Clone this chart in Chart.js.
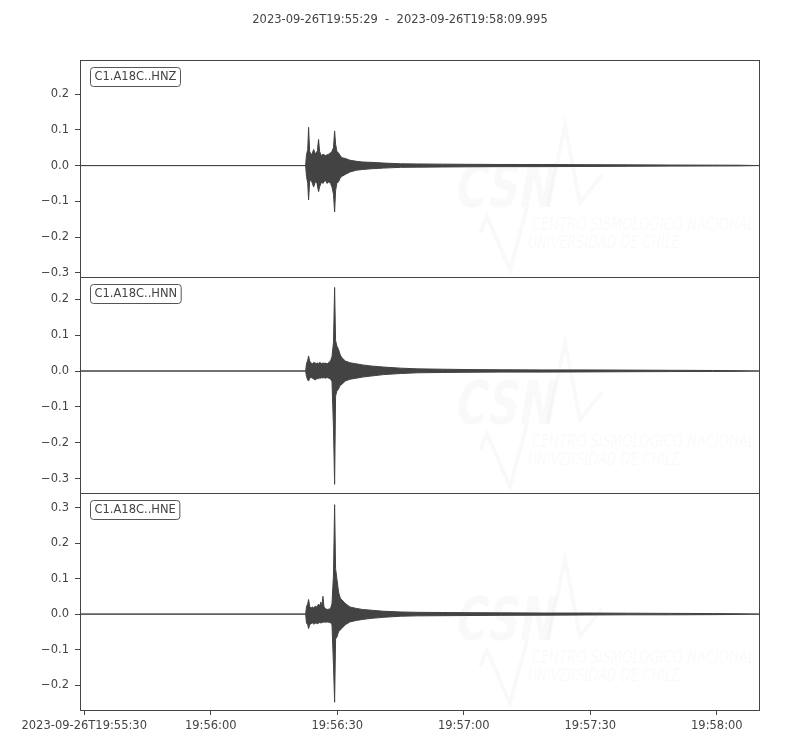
<!DOCTYPE html>
<html>
<head>
<meta charset="utf-8">
<script src="https://cdn.jsdelivr.net/npm/chart.js@4"></script>
<style>
  html, body { margin: 0; padding: 0; background: #fff; }
</style>
</head>
<body>
<canvas id="seis" width="800" height="750"></canvas>
<script>
const titleText = '2023-09-26T19:55:29  -  2023-09-26T19:58:09.995';
const duration = 160.995; // seconds shown

const channels = ['C1.A18C..HNZ', 'C1.A18C..HNN', 'C1.A18C..HNE'];

// envelope sample times, seconds after 19:55:29
const times = [0, 53.5, 53.7, 54.0, 54.2, 54.45, 54.8, 55.1, 55.4, 55.8, 56.2, 56.35, 56.57, 56.8,
  57.13, 57.35, 57.6, 57.85, 58.2, 58.6, 59.0, 59.4, 59.75, 60.1, 60.37, 60.6, 60.9, 61.3, 61.7,
  62.1, 62.9, 64, 65.5, 67, 69, 72, 76, 80, 86, 92, 100, 110, 120, 130, 140, 150, 156, 161];

const hnzMax = [0, 0, 0.03, 0.045, 0.107, 0.04, 0.03, 0.035, 0.045, 0.032, 0.04, 0.05, 0.073, 0.04,
  0.03, 0.028, 0.032, 0.03, 0.028, 0.03, 0.032, 0.035, 0.04, 0.05, 0.097, 0.06, 0.04, 0.035, 0.028,
  0.022, 0.02, 0.015, 0.012, 0.01, 0.009, 0.007, 0.005, 0.0045, 0.004, 0.0035, 0.003, 0.003, 0.0025,
  0.002, 0.0015, 0.0012, 0.001, 0];
const hnzMin = [0, 0, -0.03, -0.05, -0.096, -0.045, -0.04, -0.05, -0.06, -0.045, -0.05, -0.06, -0.073, -0.06,
  -0.05, -0.045, -0.05, -0.045, -0.042, -0.05, -0.045, -0.05, -0.06, -0.08, -0.13, -0.07, -0.05, -0.045, -0.035,
  -0.03, -0.025, -0.018, -0.013, -0.011, -0.009, -0.007, -0.005, -0.0045, -0.004, -0.0035, -0.003, -0.003, -0.0025,
  -0.002, -0.0015, -0.0012, -0.001, 0];

const hnnMax = [0, 0, 0.02, 0.03, 0.042, 0.028, 0.022, 0.02, 0.024, 0.022, 0.02, 0.023, 0.02, 0.024,
  0.022, 0.02, 0.023, 0.021, 0.022, 0.02, 0.024, 0.028, 0.04, 0.08, 0.233, 0.085, 0.07, 0.06, 0.045,
  0.037, 0.028, 0.023, 0.02, 0.017, 0.014, 0.011, 0.008, 0.006, 0.005, 0.004, 0.0035, 0.003, 0.003,
  0.0025, 0.002, 0.0015, 0.001, 0];
const hnnMin = [0, 0, -0.015, -0.025, -0.028, -0.02, -0.018, -0.02, -0.022, -0.025, -0.02, -0.02, -0.022, -0.019,
  -0.02, -0.018, -0.02, -0.018, -0.02, -0.018, -0.02, -0.022, -0.03, -0.158, -0.316, -0.07, -0.056, -0.05, -0.04,
  -0.037, -0.028, -0.023, -0.02, -0.017, -0.014, -0.01, -0.007, -0.005, -0.004, -0.0035, -0.003, -0.003, -0.0025,
  -0.002, -0.0015, -0.0012, -0.001, 0];

const hneMax = [0, 0, 0.02, 0.03, 0.041, 0.022, 0.017, 0.02, 0.018, 0.022, 0.02, 0.025, 0.028, 0.022,
  0.034, 0.02, 0.05, 0.02, 0.015, 0.013, 0.014, 0.015, 0.03, 0.11, 0.308, 0.128, 0.1, 0.062, 0.045,
  0.04, 0.03, 0.02, 0.016, 0.013, 0.011, 0.008, 0.006, 0.005, 0.0045, 0.004, 0.0035, 0.003, 0.003,
  0.0025, 0.002, 0.0015, 0.001, 0];
const hneMin = [0, 0, -0.025, -0.03, -0.041, -0.03, -0.027, -0.025, -0.028, -0.026, -0.025, -0.027, -0.025, -0.024,
  -0.025, -0.024, -0.023, -0.022, -0.023, -0.022, -0.023, -0.024, -0.03, -0.144, -0.248, -0.07, -0.065, -0.05, -0.045,
  -0.04, -0.03, -0.022, -0.018, -0.015, -0.012, -0.009, -0.006, -0.005, -0.0045, -0.004, -0.0035, -0.003, -0.0025,
  -0.002, -0.002, -0.0015, -0.001, 0];

const xTickSecs = [1, 31, 61, 91, 121, 151];
const xTickLabels = ['2023-09-26T19:55:30', '19:56:00', '19:56:30', '19:57:00', '19:57:30', '19:58:00'];

const hnzTicks = [-0.3, -0.2, -0.1, 0, 0.1, 0.2];
const hnnTicks = [-0.3, -0.2, -0.1, 0, 0.1, 0.2];
const hneTicks = [-0.2, -0.1, 0, 0.1, 0.2, 0.3];

const traceColor = '#434343';
const textColor = '#444';
const font = { family: '"DejaVu Sans", sans-serif', size: 11.5 };

function pts(ys) {
  return times.map((t, i) => ({ x: t, y: ys[i] }));
}

function fmt(v) {
  return v.toFixed(1).replace('-', '\u2212');
}

function yScale(lo, hi, ticks) {
  return {
    type: 'linear',
    position: 'left',
    stack: 'traces',
    stackWeight: 1,
    min: lo,
    max: hi,
    afterBuildTicks: s => { s.ticks = ticks.map(v => ({ value: v })); },
    afterFit: s => { s.width = 80; },
    grid: { drawOnChartArea: false, tickLength: 5, tickColor: textColor },
    border: { display: false },
    ticks: { color: textColor, font: font, padding: 6, callback: v => fmt(v) }
  };
}

function pair(maxArr, minArr, axis) {
  return [
    { data: pts(maxArr), yAxisID: axis, borderColor: traceColor, backgroundColor: traceColor,
      borderWidth: 1, pointRadius: 0, tension: 0, fill: '+1' },
    { data: pts(minArr), yAxisID: axis, borderColor: traceColor,
      borderWidth: 1, pointRadius: 0, tension: 0, fill: false }
  ];
}

const axisIds = ['yZ', 'yN', 'yE'];

function drawLogo(ctx, top) {
  ctx.save();
  const faint = 'rgba(0,0,0,0.022)';
  ctx.fillStyle = faint;
  ctx.strokeStyle = faint;
  // big CSN letters
  ctx.save();
  ctx.translate(453, top + 147);
  ctx.transform(1, 0, -0.18, 1, 0, 0);
  ctx.font = 'bold 60px "DejaVu Sans"';
  let w = ctx.measureText('CSN').width;
  ctx.scale(100 / w, 1);
  ctx.fillText('CSN', 0, 0);
  ctx.restore();
  // text lines
  const lines = [['CENTRO SISMOL\u00d3GICO NACIONAL', 532, 170, 223], ['UNIVERSIDAD DE CHILE', 528, 188, 152]];
  ctx.font = 'italic 18px "DejaVu Sans"';
  lines.forEach(l => {
    ctx.save();
    ctx.translate(l[1], top + l[2]);
    ctx.scale(l[3] / ctx.measureText(l[0]).width, 1);
    ctx.fillText(l[0], 0, 0);
    ctx.restore();
  });
  // wave strokes
  ctx.lineWidth = 4;
  ctx.beginPath();
  ctx.moveTo(548, top + 147); ctx.lineTo(565, top + 65); ctx.lineTo(580, top + 143); ctx.lineTo(602, top + 115);
  ctx.stroke();
  ctx.beginPath();
  ctx.moveTo(480, top + 173); ctx.lineTo(487, top + 157); ctx.lineTo(510, top + 210); ctx.lineTo(527, top + 147);
  ctx.stroke();
  ctx.restore();
}

const decor = {
  id: 'decor',
  beforeDatasetsDraw(chart) {
    const ctx = chart.ctx;
    axisIds.forEach(id => drawLogo(ctx, chart.scales[id].top));
  },
  afterDatasetsDraw(chart) {
    const ctx = chart.ctx;
    const a = chart.chartArea;
    ctx.save();
    ctx.lineWidth = 1;
    axisIds.forEach((id, i) => {
      const s = chart.scales[id];
      const l = Math.round(a.left) + 0.5, r = Math.round(a.right) + 0.5;
      const t = Math.round(s.top) + 0.5, b = Math.round(s.bottom) + 0.5;
      ctx.strokeStyle = textColor;
      ctx.strokeRect(l, t, r - l, b - t);
      // channel label box
      ctx.font = '11.5px "DejaVu Sans"';
      const tw = ctx.measureText(channels[i]).width;
      const bx = l + 10, by = t + 7, bw = tw + 8, bh = 19;
      ctx.beginPath();
      ctx.roundRect(bx, by, bw, bh, 3);
      ctx.fillStyle = '#fff';
      ctx.fill();
      ctx.strokeStyle = '#555';
      ctx.stroke();
      ctx.fillStyle = textColor;
      ctx.textBaseline = 'middle';
      ctx.fillText(channels[i], bx + 4, by + bh / 2 + 0.5);
    });
    ctx.restore();
  },
  afterDraw(chart) {
    const ctx = chart.ctx;
    ctx.save();
    ctx.font = '11.5px "DejaVu Sans"';
    ctx.fillStyle = textColor;
    ctx.textAlign = 'center';
    ctx.textBaseline = 'middle';
    ctx.fillText(titleText, 400, 20);
    ctx.restore();
  }
};

new Chart(document.getElementById('seis'), {
  type: 'line',
  data: {
    datasets: [
      ...pair(hnzMax, hnzMin, 'yZ'),
      ...pair(hnnMax, hnnMin, 'yN'),
      ...pair(hneMax, hneMin, 'yE')
    ]
  },
  options: {
    responsive: false,
    animation: false,
    devicePixelRatio: 1,
    layout: { padding: { top: 60, right: 41, left: 0, bottom: 0 } },
    plugins: { legend: { display: false }, tooltip: { enabled: false }, filler: { propagate: false } },
    scales: {
      x: {
        type: 'linear',
        min: 0,
        max: duration,
        afterBuildTicks: s => { s.ticks = xTickSecs.map(v => ({ value: v })); },
        afterFit: s => { s.height = 40; },
        grid: { drawOnChartArea: false, tickLength: 5, tickColor: textColor },
        border: { display: false },
        ticks: { color: textColor, font: font, padding: 4, maxRotation: 0, autoSkip: false,
          callback: (v, i) => xTickLabels[i] }
      },
      // stacked axes are laid out bottom-up, so the last panel comes first
      yE: yScale(-0.27, 0.34, hneTicks),
      yN: yScale(-0.341, 0.263, hnnTicks),
      yZ: yScale(-0.311, 0.2955, hnzTicks)
    }
  },
  plugins: [decor]
});
</script>
</body>
</html>
